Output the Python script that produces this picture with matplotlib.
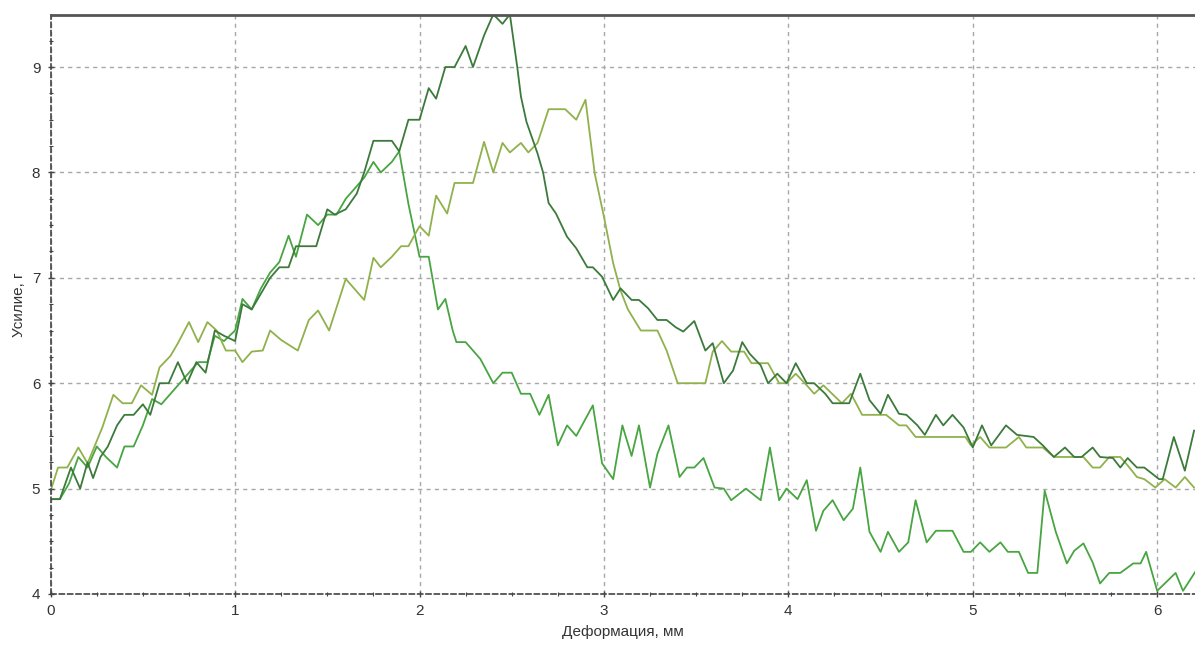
import numpy as np
import matplotlib
matplotlib.use("Agg")
import matplotlib.pyplot as plt
from matplotlib.ticker import MultipleLocator

# curve 1 - dark green (highest peak)
dark_x = [0.00, 0.05, 0.08, 0.11, 0.16, 0.20, 0.23, 0.27, 0.31, 0.36, 0.40, 0.45, 0.50, 0.54,
          0.59, 0.64, 0.69, 0.74, 0.79, 0.84, 0.89, 0.94, 1.00, 1.04, 1.09, 1.14, 1.19, 1.24,
          1.29, 1.33, 1.44, 1.50, 1.54, 1.60, 1.66, 1.70, 1.75, 1.85, 1.89, 1.94, 2.00, 2.05,
          2.09, 2.14, 2.19, 2.25, 2.29, 2.35, 2.40, 2.45, 2.49, 2.53, 2.55, 2.58, 2.64, 2.67,
          2.70, 2.74, 2.80, 2.85, 2.91, 2.94, 2.99, 3.05, 3.09, 3.15, 3.19, 3.24, 3.29, 3.34,
          3.39, 3.43, 3.49, 3.55, 3.59, 3.65, 3.70, 3.75, 3.79, 3.85, 3.89, 3.94, 3.99, 4.04,
          4.10, 4.14, 4.20, 4.24, 4.33, 4.39, 4.44, 4.50, 4.54, 4.60, 4.64, 4.70, 4.74, 4.80,
          4.84, 4.89, 4.95, 5.00, 5.05, 5.10, 5.18, 5.24, 5.33, 5.38, 5.44, 5.50, 5.55, 5.59,
          5.65, 5.69, 5.76, 5.80, 5.84, 5.89, 5.93, 6.01, 6.03, 6.09, 6.15, 6.20]
dark_y = [4.90, 4.90, 5.05, 5.20, 5.00, 5.25, 5.10, 5.30, 5.40, 5.60, 5.70, 5.70, 5.80, 5.70,
          6.00, 6.00, 6.20, 6.00, 6.20, 6.10, 6.50, 6.45, 6.40, 6.75, 6.70, 6.85, 7.00, 7.10,
          7.10, 7.30, 7.30, 7.65, 7.60, 7.65, 7.80, 8.00, 8.30, 8.30, 8.20, 8.50, 8.50, 8.80,
          8.70, 9.00, 9.00, 9.20, 9.00, 9.30, 9.50, 9.41, 9.50, 9.00, 8.72, 8.48, 8.18, 8.00,
          7.71, 7.61, 7.39, 7.28, 7.10, 7.10, 7.01, 6.79, 6.90, 6.79, 6.79, 6.71, 6.60, 6.60,
          6.53, 6.49, 6.59, 6.31, 6.38, 6.00, 6.12, 6.39, 6.28, 6.17, 6.00, 6.09, 6.00, 6.19,
          6.00, 6.00, 5.90, 5.81, 5.81, 6.09, 5.84, 5.71, 5.89, 5.71, 5.70, 5.60, 5.51, 5.70,
          5.60, 5.70, 5.58, 5.39, 5.60, 5.41, 5.60, 5.51, 5.49, 5.41, 5.30, 5.39, 5.30, 5.30,
          5.39, 5.30, 5.29, 5.20, 5.29, 5.20, 5.20, 5.09, 5.09, 5.49, 5.17, 5.55]

# curve 2 - olive (late peak near 2.9 mm)
olive_x = [0.00, 0.04, 0.09, 0.15, 0.20, 0.28, 0.34, 0.39, 0.44, 0.49, 0.55, 0.59, 0.65, 0.69,
           0.75, 0.80, 0.85, 0.90, 0.95, 1.00, 1.04, 1.09, 1.15, 1.19, 1.25, 1.34, 1.40, 1.45,
           1.51, 1.60, 1.64, 1.70, 1.75, 1.79, 1.85, 1.90, 1.94, 2.00, 2.05, 2.09, 2.15, 2.19,
           2.29, 2.35, 2.40, 2.45, 2.49, 2.55, 2.59, 2.64, 2.70, 2.79, 2.85, 2.90, 2.95, 3.00,
           3.05, 3.09, 3.13, 3.20, 3.29, 3.34, 3.40, 3.55, 3.59, 3.64, 3.69, 3.76, 3.80, 3.89,
           3.95, 3.99, 4.04, 4.10, 4.14, 4.19, 4.29, 4.34, 4.40, 4.53, 4.60, 4.64, 4.69, 4.96,
           4.99, 5.04, 5.09, 5.18, 5.25, 5.29, 5.38, 5.44, 5.60, 5.65, 5.69, 5.74, 5.80, 5.84,
           5.89, 5.93, 5.99, 6.04, 6.10, 6.15, 6.20]
olive_y = [4.98, 5.20, 5.20, 5.39, 5.24, 5.58, 5.89, 5.81, 5.81, 5.98, 5.89, 6.15, 6.26, 6.38,
           6.58, 6.39, 6.58, 6.50, 6.31, 6.31, 6.20, 6.30, 6.31, 6.50, 6.41, 6.31, 6.60, 6.69,
           6.50, 6.99, 6.91, 6.79, 7.19, 7.10, 7.20, 7.30, 7.30, 7.49, 7.40, 7.78, 7.61, 7.90,
           7.90, 8.29, 8.00, 8.28, 8.19, 8.28, 8.19, 8.28, 8.60, 8.60, 8.50, 8.69, 7.99, 7.58,
           7.14, 6.88, 6.70, 6.50, 6.50, 6.31, 6.00, 6.00, 6.30, 6.40, 6.30, 6.30, 6.19, 6.19,
           6.00, 6.00, 6.09, 5.98, 5.90, 5.98, 5.81, 5.90, 5.70, 5.70, 5.60, 5.60, 5.49, 5.49,
           5.41, 5.49, 5.39, 5.39, 5.49, 5.39, 5.39, 5.30, 5.30, 5.20, 5.20, 5.30, 5.30, 5.22,
           5.11, 5.09, 5.01, 5.09, 5.01, 5.11, 5.01]

# curve 3 - bright green (early peak, falls to ~4)
bright_x = [0.00, 0.05, 0.10, 0.15, 0.20, 0.25, 0.30, 0.36, 0.40, 0.45, 0.50, 0.55, 0.60, 0.65,
            0.70, 0.75, 0.80, 0.85, 0.89, 0.94, 1.00, 1.04, 1.09, 1.14, 1.19, 1.24, 1.29, 1.33,
            1.39, 1.45, 1.50, 1.55, 1.60, 1.65, 1.70, 1.75, 1.79, 1.85, 1.89, 1.94, 2.00, 2.05,
            2.10, 2.14, 2.18, 2.20, 2.25, 2.33, 2.40, 2.45, 2.50, 2.55, 2.60, 2.65, 2.70, 2.75,
            2.80, 2.85, 2.94, 2.99, 3.05, 3.10, 3.15, 3.19, 3.25, 3.29, 3.35, 3.41, 3.45, 3.49,
            3.54, 3.60, 3.65, 3.69, 3.77, 3.85, 3.90, 3.95, 3.99, 4.05, 4.10, 4.15, 4.19, 4.24,
            4.30, 4.35, 4.39, 4.44, 4.50, 4.54, 4.60, 4.65, 4.69, 4.75, 4.80, 4.89, 4.95, 4.99,
            5.04, 5.09, 5.15, 5.19, 5.25, 5.30, 5.35, 5.39, 5.45, 5.51, 5.55, 5.60, 5.65, 5.69,
            5.74, 5.80, 5.87, 5.91, 5.94, 6.00, 6.10, 6.14, 6.21]
bright_y = [4.90, 4.90, 5.05, 5.30, 5.20, 5.40, 5.30, 5.20, 5.40, 5.40, 5.60, 5.85, 5.80, 5.90,
            6.00, 6.10, 6.20, 6.20, 6.45, 6.40, 6.50, 6.80, 6.70, 6.90, 7.05, 7.15, 7.40, 7.20,
            7.60, 7.50, 7.60, 7.60, 7.75, 7.85, 7.95, 8.10, 8.00, 8.10, 8.20, 7.70, 7.20, 7.20,
            6.70, 6.80, 6.50, 6.39, 6.39, 6.23, 6.00, 6.10, 6.10, 5.90, 5.90, 5.70, 5.89, 5.41,
            5.60, 5.50, 5.79, 5.24, 5.09, 5.60, 5.31, 5.60, 5.01, 5.33, 5.60, 5.11, 5.20, 5.20,
            5.29, 5.01, 5.00, 4.89, 5.00, 4.89, 5.39, 4.89, 5.00, 4.90, 5.08, 4.60, 4.79, 4.89,
            4.70, 4.81, 5.20, 4.59, 4.40, 4.59, 4.40, 4.49, 4.89, 4.49, 4.60, 4.60, 4.40, 4.40,
            4.49, 4.40, 4.49, 4.40, 4.40, 4.20, 4.20, 4.98, 4.59, 4.29, 4.41, 4.48, 4.30, 4.10,
            4.20, 4.20, 4.29, 4.29, 4.40, 4.03, 4.20, 4.03, 4.22]

plt.rcParams['font.family'] = ['Liberation Sans', 'DejaVu Sans']

fig = plt.figure(figsize=(11.95, 6.46), dpi=100)
ax = fig.add_axes([0.0424, 0.0805, 0.9576, 0.8963])

ax.plot(bright_x, bright_y, color='#48a542', lw=1.3)
ax.plot(olive_x, olive_y, color='#90b14c', lw=1.3)
ax.plot(dark_x, dark_y, color='#3c7a3c', lw=1.3)

ax.set_xlim(0, 6.205)
ax.set_ylim(4, 9.494)
ax.xaxis.set_major_locator(MultipleLocator(1))
ax.xaxis.set_minor_locator(MultipleLocator(0.25))
ax.yaxis.set_major_locator(MultipleLocator(1))
ax.yaxis.set_minor_locator(MultipleLocator(0.25))

ax.grid(True, which='major', color='#a8a8a8', linestyle=(0, (3, 3)), lw=1.0)

ax.spines['right'].set_visible(False)
ax.spines['top'].set_color('#555555')
ax.spines['top'].set_linewidth(2)
for s in ['left', 'bottom']:
    ax.spines[s].set_linestyle((0, (3, 2)))
    ax.spines[s].set_color('#444444')
    ax.spines[s].set_linewidth(1.2)

ax.tick_params(which='major', direction='inout', length=5, width=1, color='#444444',
               labelsize=11, labelcolor='#333333', pad=5)
ax.tick_params(which='minor', direction='inout', length=3, width=0.8, color='#444444')
ax.tick_params(axis='x', top=False)

ax.set_xlabel('Деформация, мм', fontsize=11, color='#333333', labelpad=5)
ax.set_ylabel('Усилие, г', fontsize=11, color='#333333', labelpad=4)

fig.savefig('out.png', dpi=100)
